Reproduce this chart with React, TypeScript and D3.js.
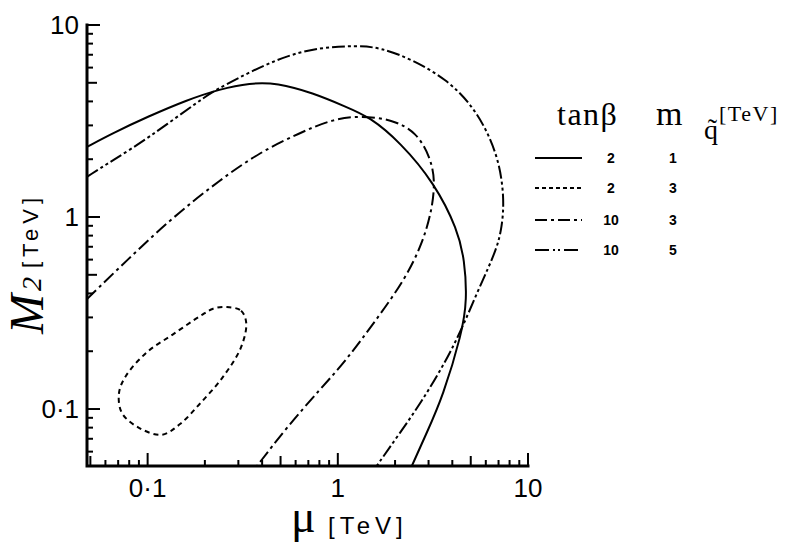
import React from "react";
import * as d3 from "d3";

// ---- data ----
const xDomain: [number, number] = [0.048, 10];
const yDomain: [number, number] = [0.0505, 10];

const xTickLabels = [
  { v: 0.1, label: "0·1" },
  { v: 1, label: "1" },
  { v: 10, label: "10" },
];
const yTickLabels = [
  { v: 0.1, label: "0·1" },
  { v: 1, label: "1" },
  { v: 10, label: "10" },
];

// tanβ = 2, m_q̃ = 1 TeV (solid)
const curveTan2Mq1: [number, number][] = [
  [0.048, 2.32], [0.0659, 2.74], [0.0994, 3.32], [0.161, 4.07], [0.24, 4.64],
  [0.345, 4.99], [0.478, 5.0], [0.739, 4.43], [1.11, 3.74], [1.47, 3.32],
  [2.12, 2.46], [3.23, 1.5], [4.27, 0.856], [4.64, 0.597], [4.78, 0.37],
  [4.5, 0.249], [3.56, 0.1155], [2.93, 0.075], [2.45, 0.0505],
];
// tanβ = 2, m_q̃ = 3 TeV (dashed, closed loop)
const curveTan2Mq3: [number, number][] = [
  [0.261, 0.34], [0.31, 0.325], [0.33, 0.281], [0.31, 0.21], [0.249, 0.147],
  [0.189, 0.107], [0.148, 0.0835], [0.119, 0.0735], [0.0905, 0.0796], [0.0733, 0.0953],
  [0.0707, 0.121], [0.077, 0.149], [0.0994, 0.198], [0.136, 0.245], [0.189, 0.305],
  [0.221, 0.333],
];
// tanβ = 10, m_q̃ = 3 TeV (dash-dot)
const curveTan10Mq3: [number, number][] = [
  [0.048, 0.374], [0.078, 0.597], [0.136, 1.0], [0.24, 1.56], [0.39, 2.18],
  [0.632, 2.74], [0.908, 3.2], [1.3, 3.38], [1.94, 3.22], [2.6, 2.76],
  [3.06, 2.05], [3.25, 1.56], [3.13, 1.09], [2.79, 0.732], [2.25, 0.47],
  [1.56, 0.284], [1.11, 0.18], [0.804, 0.126], [0.54, 0.0806], [0.376, 0.0505],
];
// tanβ = 10, m_q̃ = 5 TeV (dash-dot-dot)
const curveTan10Mq5: [number, number][] = [
  [0.048, 1.62], [0.0659, 1.98], [0.0994, 2.55], [0.189, 4.07], [0.24, 4.75],
  [0.496, 6.81], [0.804, 7.65], [1.26, 7.8], [1.66, 7.65], [2.48, 6.6],
  [3.73, 5.2], [4.93, 3.95], [6.06, 2.86], [7.1, 1.91], [7.5, 1.23],
  [7.3, 0.887], [6.83, 0.673], [5.56, 0.432], [4.53, 0.267], [3.73, 0.18],
  [2.79, 0.111], [2.12, 0.075], [1.6, 0.0505],
];

const tanBetaValues = ["2", "2", "10", "10"];
const squarkMassValues = ["1", "3", "3", "5"];

const seriesCurves = [curveTan2Mq1, curveTan2Mq3, curveTan10Mq3, curveTan10Mq5];
const seriesClosed = [false, true, false, false];
const seriesDash = ["", "5,4", "13,4,3,4", "13,3,3,3,3,3"];
const legendDash = ["", "4,3", "12,4,3,4", "14,4,2,3,2,4"];

// ---- layout ----
const W = 795;
const H = 543;
const X0 = 87;
const X1 = 528;
const Y0 = 466;
const Y1 = 25;

export default function App() {
  const x = d3.scaleLog().domain(xDomain).range([X0, X1]);
  const y = d3.scaleLog().domain(yDomain).range([Y0, Y1]);

  const isMajor = (v: number) => Math.abs(Math.log10(v) - Math.round(Math.log10(v))) < 1e-6;
  const lead = (v: number) => Math.round(v / Math.pow(10, Math.floor(Math.log10(v) + 1e-9)));
  const tickLen = (v: number) => (isMajor(v) ? 13 : lead(v) === 5 ? 10 : 6);

  const xTicks = x.ticks().filter((v) => v >= xDomain[0] - 1e-9 && v <= xDomain[1] + 1e-9);
  const yTicks = y.ticks().filter((v) => v >= yDomain[0] - 1e-9 && v <= yDomain[1] + 1e-9);

  const openLine = d3
    .line<[number, number]>()
    .x((d) => x(d[0]))
    .y((d) => y(d[1]))
    .curve(d3.curveBasis);
  const closedLine = d3
    .line<[number, number]>()
    .x((d) => x(d[0]))
    .y((d) => y(d[1]))
    .curve(d3.curveCatmullRomClosed.alpha(0.5));

  const sans = "'Liberation Sans', Arial, sans-serif";
  const serif = "'Liberation Serif', 'Times New Roman', serif";

  const legendX0 = 535;
  const legendX1 = 582;
  const legendRows = [158, 188, 220, 250];

  return (
    <svg
      width={W}
      height={H}
      viewBox={`0 0 ${W} ${H}`}
      style={{ position: "absolute", left: 0, top: 0, background: "#fff" }}
    >
      <defs>
        <clipPath id="plotClip">
          <rect x={X0} y={Y1} width={X1 - X0 + 2} height={Y0 - Y1} />
        </clipPath>
      </defs>
      <rect x={0} y={0} width={W} height={H} fill="#fff" />

      {/* curves */}
      <g clipPath="url(#plotClip)" fill="none" stroke="#000" strokeWidth={2}>
        {seriesCurves.map((pts, i) => (
          <path
            key={i}
            d={(seriesClosed[i] ? closedLine : openLine)(pts) || ""}
            strokeDasharray={seriesDash[i] || undefined}
            strokeLinecap="butt"
          />
        ))}
      </g>

      {/* axes */}
      <g stroke="#000" fill="none">
        <path d={`M${X0},${Y1} V${Y0} H${X1}`} strokeWidth={3} strokeLinecap="square" />
        {xTicks.map((v, i) => (
          <line key={"xt" + i} x1={x(v)} x2={x(v)} y1={Y0} y2={Y0 - tickLen(v)} strokeWidth={2} />
        ))}
        {yTicks.map((v, i) => (
          <line key={"yt" + i} x1={X0} x2={X0 + tickLen(v)} y1={y(v)} y2={y(v)} strokeWidth={2} />
        ))}
      </g>

      {/* tick labels */}
      <g fontFamily={sans} fontSize={26} fill="#000">
        {xTickLabels.map((t, i) => (
          <text key={"xl" + i} x={x(t.v)} y={497} textAnchor="middle">
            {t.label}
          </text>
        ))}
        {yTickLabels.map((t, i) => (
          <text key={"yl" + i} x={79} y={y(t.v) + 9} textAnchor="end">
            {t.label}
          </text>
        ))}
      </g>

      {/* x axis title */}
      <text x={291} y={532} fontFamily={serif} fontSize={46} fill="#000">
        μ
      </text>
      <text x={328} y={534} fontFamily={sans} fontSize={24} letterSpacing={5} fill="#000">
        [TeV]
      </text>

      {/* y axis title */}
      <text
        transform="translate(43,334) rotate(-90)"
        fontFamily={serif}
        fontStyle="italic"
        fontSize={48}
        fill="#000"
      >
        M
      </text>
      <text
        transform="translate(41,291) rotate(-90)"
        fontFamily={serif}
        fontStyle="italic"
        fontSize={28}
        fill="#000"
      >
        2
      </text>
      <text
        transform="translate(38,268) rotate(-90)"
        fontFamily={sans}
        fontSize={22}
        letterSpacing={5}
        fill="#000"
      >
        [TeV]
      </text>

      {/* legend header */}
      <text x={557} y={125} fontFamily={serif} fontSize={32} letterSpacing={1.5} fill="#000">
        tanβ
      </text>
      <text x={656} y={125} fontFamily={serif} fontSize={34} fill="#000">
        m
      </text>
      <text x={704} y={139} fontFamily={serif} fontSize={28} fill="#000">
        q̃
      </text>
      <text x={719} y={121} fontFamily={serif} fontSize={22} letterSpacing={1.5} fill="#000">
        [TeV]
      </text>

      {/* legend rows */}
      {legendRows.map((ry, i) => (
        <g key={"lg" + i}>
          <line
            x1={legendX0}
            x2={legendX1}
            y1={ry}
            y2={ry}
            stroke="#000"
            strokeWidth={2}
            strokeDasharray={legendDash[i] || undefined}
          />
          <text
            x={611}
            y={ry + 5}
            textAnchor="middle"
            fontFamily={sans}
            fontWeight="bold"
            fontSize={14}
            fill="#000"
          >
            {tanBetaValues[i]}
          </text>
          <text
            x={673}
            y={ry + 5}
            textAnchor="middle"
            fontFamily={sans}
            fontWeight="bold"
            fontSize={14}
            fill="#000"
          >
            {squarkMassValues[i]}
          </text>
        </g>
      ))}
    </svg>
  );
}
